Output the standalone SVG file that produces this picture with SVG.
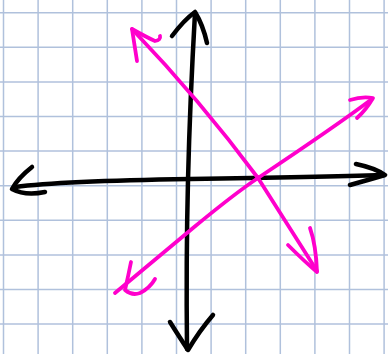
<svg xmlns="http://www.w3.org/2000/svg" width="388" height="354" viewBox="0 0 388 354">
<style>
.grid line{stroke:#b0c1dc;stroke-width:1.5}
.ax{fill:none;stroke:#000;stroke-width:4.5;stroke-linecap:round;stroke-linejoin:round}
.mg{fill:none;stroke:#ff00cc;stroke-width:3.8;stroke-linecap:round;stroke-linejoin:round}
</style>
<rect width="388" height="354" fill="#fff"/>
<g class="grid">
<line x1="3.5" y1="0" x2="3.5" y2="354"/>
<line x1="38.1" y1="0" x2="38.1" y2="354"/>
<line x1="72.7" y1="0" x2="72.7" y2="354"/>
<line x1="107.3" y1="0" x2="107.3" y2="354"/>
<line x1="141.9" y1="0" x2="141.9" y2="354"/>
<line x1="176.5" y1="0" x2="176.5" y2="354"/>
<line x1="211.1" y1="0" x2="211.1" y2="354"/>
<line x1="245.7" y1="0" x2="245.7" y2="354"/>
<line x1="280.3" y1="0" x2="280.3" y2="354"/>
<line x1="314.9" y1="0" x2="314.9" y2="354"/>
<line x1="349.5" y1="0" x2="349.5" y2="354"/>
<line x1="384.1" y1="0" x2="384.1" y2="354"/>
<line x1="0" y1="12.7" x2="388" y2="12.7"/>
<line x1="0" y1="47.3" x2="388" y2="47.3"/>
<line x1="0" y1="81.9" x2="388" y2="81.9"/>
<line x1="0" y1="116.5" x2="388" y2="116.5"/>
<line x1="0" y1="151.1" x2="388" y2="151.1"/>
<line x1="0" y1="185.7" x2="388" y2="185.7"/>
<line x1="0" y1="220.3" x2="388" y2="220.3"/>
<line x1="0" y1="254.9" x2="388" y2="254.9"/>
<line x1="0" y1="289.5" x2="388" y2="289.5"/>
<line x1="0" y1="324.1" x2="388" y2="324.1"/>
</g>
<g id="x-axis">
<path class="ax" d="M15,187 Q60,181 190,179 T384,175"/>
<path class="ax" d="M32,167 Q18,178 12,189 Q25,196 45,192"/>
<path class="ax" d="M356,164 Q375,168 385,175 Q368,180 350,185"/>
</g>
<g id="y-axis">
<path class="ax" d="M195,13 Q190,100 188,180 T187,349"/>
<path class="ax" d="M172,36 Q184,20 195,12 Q203,25 207,43"/>
<path class="ax" d="M170,322 Q180,338 188,350 Q200,330 213,315"/>
</g>
<g id="line-1">
<path class="mg" d="M132,29 Q200,100 258,178 L317,271"/>
<path class="mg" d="M137,61 Q134,42 132,29 Q148,38 155,41 Q161,40 160,36"/>
<path class="mg" d="M288,245 Q305,262 317,272 Q316,245 310,228"/>
</g>
<g id="line-2">
<path class="mg" d="M115,293 C145,268 170,247 193,228 S240,190 258,178 S340,123 372,99"/>
<path class="mg" d="M131,262 Q128,277 125,290 Q132,296 140,293 Q150,288 155,279"/>
<path class="mg" d="M350,100 Q362,96 373,98 Q366,110 357,118"/>
</g>
</svg>
